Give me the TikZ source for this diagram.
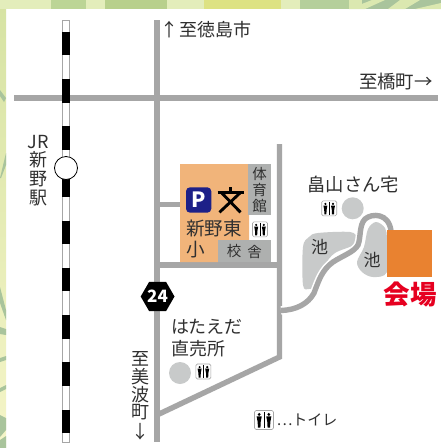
\documentclass[tikz,border=0pt]{standalone}
\usepackage{fontspec}
\setmainfont{Noto Sans CJK JP}
\usetikzlibrary{shapes.geometric}
\definecolor{roadgray}{HTML}{A6A6A6}
\definecolor{bldgray}{HTML}{AEB0AF}
\definecolor{pondgray}{HTML}{C8CACA}
\definecolor{schoolor}{HTML}{F1B47A}
\definecolor{venueor}{HTML}{E98230}
\definecolor{venuered}{HTML}{E60020}
\definecolor{navyp}{HTML}{1D2088}
\definecolor{leafg}{HTML}{A9C49C}
\definecolor{inkgray}{HTML}{303030}
\definecolor{fa}{HTML}{D6E3A3}
\definecolor{fb}{HTML}{F5F5C8}
\definecolor{ta}{HTML}{E3EDBB}
\definecolor{tb}{HTML}{BCD596}
\definecolor{tc}{HTML}{B8D08C}
\definecolor{td}{HTML}{DDE283}
\definecolor{te}{HTML}{B5CF9B}
\definecolor{tf}{HTML}{DBE8B0}
\tikzset{
  road/.style={draw=roadgray,line width=5.4pt},
  lbl/.style={inner sep=0pt,outer sep=0pt,text=inkgray,font=\fontsize{18}{18}\selectfont},
  smalllbl/.style={lbl,font=\fontsize{14.5}{14.5}\selectfont},
  pond/.style={fill=pondgray,draw=none},
  leaf/.style={fill=leafg,draw=none},
  pics/wc/.style={code={
    \draw[fill=white,draw=black!35,line width=.6pt,rounded corners=1.5pt] (-7.5,-7.5) rectangle (7.5,7.5);
    \draw[black,line width=.7pt] (0,-6.5) -- (0,6.5);
    \foreach \s in {-1,1}{
      \fill[black] (\s*3.8,-4.4) circle (1.2);
      \fill[black] (\s*3.8-2,-2.8) -- (\s*3.8+2,-2.8) -- (\s*3.8+1.2,1.5) -- (\s*3.8+1,6) -- (\s*3.8-1,6) -- (\s*3.8-1.2,1.5) -- cycle;
    }
  }}
}
\begin{document}
\begin{tikzpicture}[x=1pt,y=-1pt]
\useasboundingbox (0,0) rectangle (441,448);
% background frame
\fill[white] (0,0) rectangle (441,448);
\shade[top color=fa,bottom color=fb] (0,0) rectangle (6,448);
\fill[leaf] (0,90) -- (6,98) -- (4,102) -- (0,96) -- cycle;
\fill[leaf] (0,178) -- (6,153) -- (6,165) -- (1,178) -- cycle;
\fill[leaf] (0,287) -- (6,310) -- (6,320) -- (0,303) -- cycle;
\fill[leaf] (0,327) -- (6,329) -- (6,335) -- (0,334) -- cycle;
\fill[leaf] (0,358) -- (6,356) -- (6,360) -- (0,362) -- cycle;
\fill[leaf] (0,388) -- (6,385) -- (6,389) -- (0,392) -- cycle;
\fill[leaf] (0,415) -- (6,418) -- (6,430) -- (0,437) -- cycle;
\fill[leaf] (0,440) -- (6,436) -- (6,448) -- (0,448) -- cycle;
% top strip
\fill[ta] (0,0) rectangle (441,9);
\fill[tb] (51,0) rectangle (86,9);
\fill[tc] (105,0) rectangle (167,9);
\fill[td] (204,0) rectangle (281,9);
\fill[te] (300,0) rectangle (349,9);
\fill[tf] (349,0) rectangle (362,9);
\fill[leafg] (362,0) -- (441,0) -- (441,9) -- (362,9) -- cycle;
\fill[tf] (349,9) -- (372,0) -- (385,0) -- (365,9) -- cycle;
\fill[tf] (388,9) -- (400,0) -- (420,0) -- (405,9) -- cycle;
\fill[tf] (415,9) -- (441,3) -- (441,9) -- cycle;
% roads
\draw[road] (14,98) -- (437.5,98);
\draw[road] (157,20) -- (157,442);
\draw[road] (157,204.5) -- (182,204.5);
\draw[road] (157,265) -- (279.5,265);
\draw[road] (279.5,144) -- (279.5,357) -- (157,415);
% railway
\fill[white] (62.7,20) rectangle (69.3,442);
\draw[roadgray,line width=.6pt] (62.7,20) rectangle (69.3,442);
\foreach \y in {32,79.2,126.4,173.6,220.8,268,315.2,362.4,409.6}
  \fill[black] (62.4,\y) rectangle (69.6,\y+23.4);
\node[circle,draw=black,fill=white,line width=.8pt,minimum size=23pt,inner sep=0pt] (station) at (66,168) {};
% school
\fill[schoolor] (180,164) -- (249,164) -- (249,240) -- (218,240) -- (218,262) -- (180,262) -- cycle;
\fill[bldgray] (248,164) rectangle (271,215);
\fill[bldgray] (218,240) rectangle (271,262);
\fill[navyp,rounded corners=4pt] (186,187.3) rectangle (211.3,212.7);
\node[inner sep=0pt,text=white,font=\bfseries\fontsize{21}{21}\selectfont] (parking) at (198.6,199.5) {P};
\draw[black,line width=2.9pt] (217.5,192.5) -- (244,192.5);
\draw[black,line width=2.9pt] (230.7,187.3) -- (230.7,192.5);
\draw[black,line width=2.9pt] (221.8,193) -- (240.5,212.3);
\draw[black,line width=2.9pt] (240,193) -- (219.5,212.3);
\node[lbl,anchor=west,font=\fontsize{18.6}{18.6}\selectfont] (shinnohigashi) at (186,228.5) {新野東};
\node[lbl,anchor=west,font=\fontsize{18.6}{18.6}\selectfont] (sho) at (186,249.5) {小};
\node[smalllbl] (tai) at (259.5,174) {体};
\node[smalllbl] (iku) at (259.5,190) {育};
\node[smalllbl] (kan) at (259.5,205.5) {館};
\node[smalllbl] (ko) at (234,251.5) {校};
\node[smalllbl] (sha) at (254.5,251.5) {舎};
\pic at (260,229.3) {wc};
% ponds
\fill[pond] plot[smooth cycle,tension=.55] coordinates {(303,247) (309,237) (318,233) (350,232) (357,238) (354,245) (335,253) (325,265) (318,285) (309,289) (303,285)};
\fill[pond] plot[smooth cycle,tension=.55] coordinates {(368,229) (376,222) (385,228) (387,240) (387,272) (373,277) (362,272) (357,262) (364,247)};
% curved road
\draw[white,line width=8.5pt] (281,310.5) .. controls (296,310) and (308,304) .. (314,293) .. controls (319,280) and (322,270) .. (333,262) .. controls (344,255) and (354,252) .. (358,245) .. controls (361,238) and (359,225) .. (365,219) .. controls (372,213) and (389,213) .. (391,231);
\draw[road] (281,310.5) .. controls (296,310) and (308,304) .. (314,293) .. controls (319,280) and (322,270) .. (333,262) .. controls (344,255) and (354,252) .. (358,245) .. controls (361,238) and (359,225) .. (365,219) .. controls (372,213) and (389,213) .. (391,231);
% venue
\fill[venueor] (387,230) rectangle (432,277);
\node[inner sep=0pt,text=venuered,font=\bfseries\fontsize{26.5}{26.5}\selectfont] (kaijo) at (410,295) {会場};
% hexagon
\node[regular polygon,regular polygon sides=6,fill=black,minimum size=33pt,inner sep=0pt,text=white,font=\bfseries\fontsize{17}{17}\selectfont] (route) at (157.6,296.5) {24};
% circles and toilets
\fill[pondgray] (352.7,208.3) circle (11);
\fill[pondgray] (180,373) circle (11);
\pic at (329.2,208.3) {wc};
\pic at (203.4,371.5) {wc};
\pic[scale=1.27] at (264,420) {wc};
% labels
\node[lbl] (uarrow) at (169.5,30) {↑};
\node[lbl,anchor=west] (tokushima) at (179.5,30) {至徳島市};
\node[lbl,anchor=west,font=\fontsize{18.4}{18.4}\selectfont] (tachibana) at (359,82) {至橋町→};
\node[lbl] (jr) at (38,142) {JR};
\node[lbl] (shin) at (38,160) {新};
\node[lbl] (no) at (38,179) {野};
\node[lbl] (eki) at (38,198) {駅};
\node[lbl,anchor=west,font=\fontsize{18.3}{18.3}\selectfont] (hatake) at (307.5,184) {畠山さん宅};
\node[lbl,font=\fontsize{17}{17}\selectfont] (ike1) at (319.5,247) {池};
\node[lbl,font=\fontsize{17}{17}\selectfont] (ike2) at (372,260) {池};
\node[lbl,anchor=west] (hatae) at (171,327) {はたえだ};
\node[lbl,anchor=west] (chokubai) at (171,349) {直売所};
\node[lbl] (shi) at (140,359) {至};
\node[lbl] (mi) at (140,377) {美};
\node[lbl] (nami) at (140,394.5) {波};
\node[lbl] (cho) at (140,412) {町};
\node[lbl] (darrow) at (140,432) {↓};
\node[lbl,anchor=west,font=\fontsize{15}{15}\selectfont] (legend) at (276.5,419.5) {⋯トイレ};
\end{tikzpicture}
\end{document}
